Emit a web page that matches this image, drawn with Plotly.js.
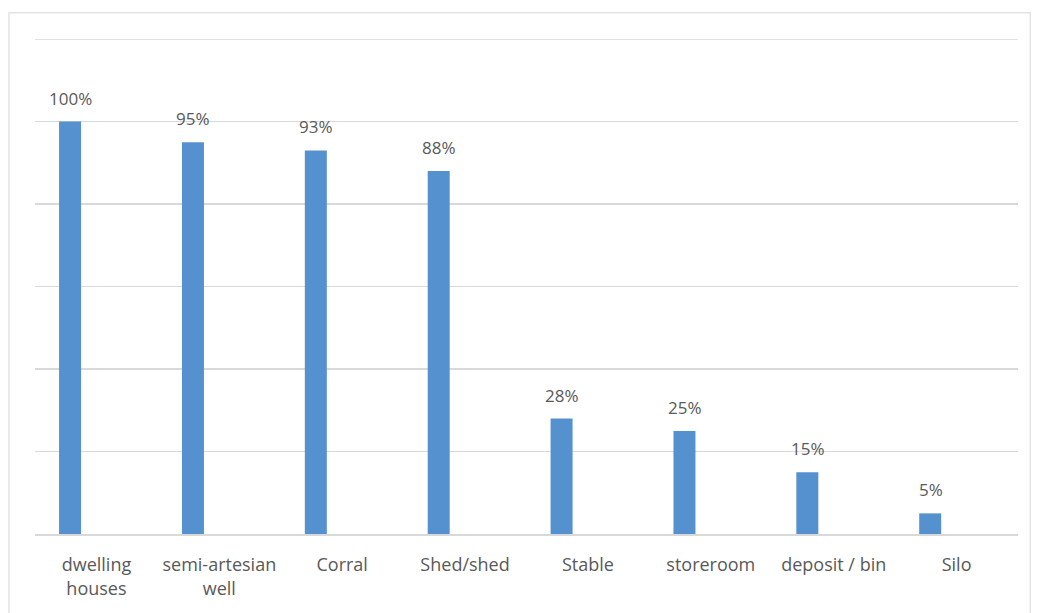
<!DOCTYPE html>
<html>
<head>
<meta charset="utf-8">
<script src="https://cdn.plot.ly/plotly-3.0.1.min.js"></script>
<style>
html,body{margin:0;padding:0;background:#fff;}
#chart{width:1037px;height:613px;}
</style>
</head>
<body>
<div id="chart"></div>
<script>
var categories = ["dwelling<br>houses", "semi-artesian<br>well", "Corral", "Shed/shed", "Stable", "storeroom", "deposit / bin", "Silo"];
var values = [100, 95, 93, 88, 28, 25, 15, 5];
var valueLabels = ["100%", "95%", "93%", "88%", "28%", "25%", "15%", "5%"];

var trace = {
  type: "bar",
  x: categories,
  y: values,
  marker: {color: "#5590cf"},
  width: 0.179,
  offset: -0.304,
  hoverinfo: "x+y"
};

var annotations = categories.map(function (c, i) {
  return {
    x: c, y: values[i], xref: "x", yref: "y",
    text: valueLabels[i], showarrow: false,
    xanchor: "center", yanchor: "bottom",
    xshift: -26, yshift: 10,
    font: {family: "Open Sans, sans-serif", size: 17, color: "#595959"}
  };
});

var layout = {
  width: 1037,
  height: 613,
  margin: {l: 35, r: 19, t: 39, b: 79},
  paper_bgcolor: "#ffffff",
  plot_bgcolor: "#ffffff",
  showlegend: false,
  font: {family: "Open Sans, sans-serif", color: "#595959", size: 17},
  annotations: annotations,
  xaxis: {
    type: "category",
    showgrid: false,
    showline: true,
    linecolor: "#d9d9d9",
    linewidth: 1.5,
    ticks: "",
    ticklabelstandoff: 14,
    tickfont: {family: "Open Sans, sans-serif", size: 18, color: "#595959"},
    tickangle: 0
  },
  yaxis: {
    range: [0, 120],
    dtick: 20,
    showgrid: true,
    gridcolor: "#d9d9d9",
    gridwidth: 1.5,
    showticklabels: false,
    zeroline: false,
    ticks: ""
  },
  shapes: [{
    type: "rect",
    xref: "paper", yref: "paper",
    x0: -0.0265, x1: 1.0125,
    y0: -0.2, y1: 1.053,
    line: {color: "#e3e3e3", width: 1.5},
    fillcolor: "rgba(0,0,0,0)",
    layer: "below"
  }, {
    type: "line",
    xref: "paper", yref: "y",
    x0: 0, x1: 1, y0: 120, y1: 120,
    line: {color: "#d9d9d9", width: 1.5}
  }]
};

Plotly.newPlot("chart", [trace], layout, {displayModeBar: false, staticPlot: true});
</script>
</body>
</html>
